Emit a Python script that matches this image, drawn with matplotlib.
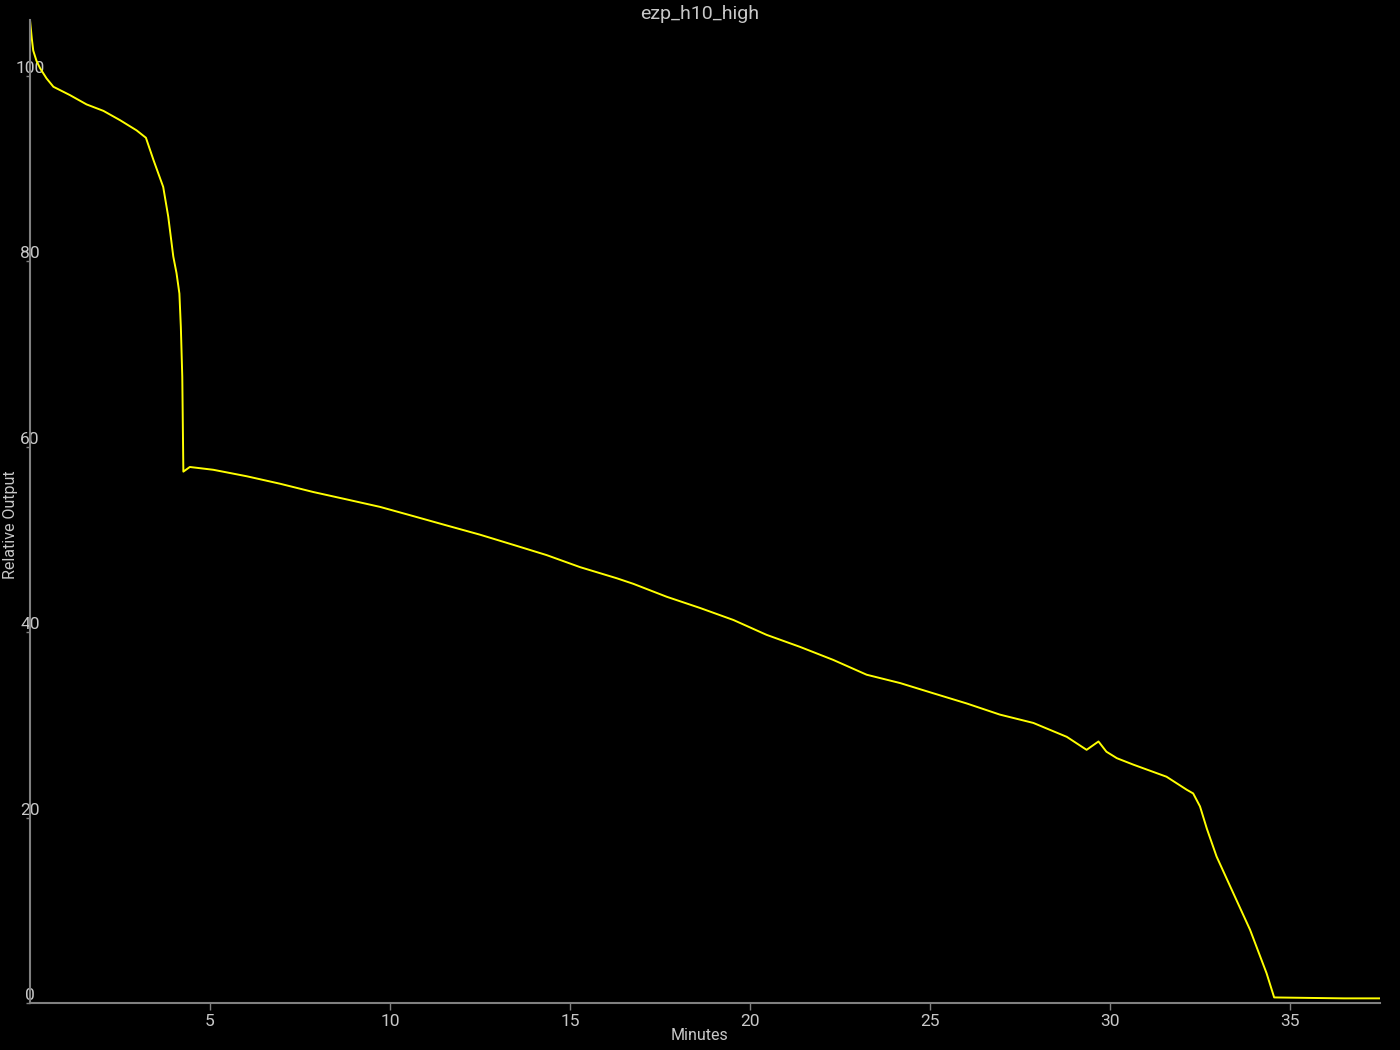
import matplotlib
matplotlib.use("Agg")
import matplotlib.pyplot as plt

# ---------------------------------------------------------------------
# DATA
# ---------------------------------------------------------------------
TITLE = "ezp_h10_high"

minutes = [
    0.00, 0.05, 0.09, 0.18, 0.28, 0.46, 0.65, 1.11, 1.57, 2.04, 2.50,
    2.96, 3.22, 3.43, 3.70, 3.84, 3.98, 4.07, 4.15, 4.19, 4.23, 4.26,
    4.44, 5.09, 6.02, 6.94, 7.87, 8.80, 9.72, 10.65, 11.57, 12.50,
    13.43, 14.35, 15.28, 16.30, 16.76, 17.69, 18.61, 19.54, 20.46,
    21.39, 22.31, 23.24, 24.17, 25.09, 26.02, 26.94, 27.87, 28.80,
    29.35, 29.68, 29.90, 30.19, 30.65, 31.57, 32.13, 32.31, 32.50,
    32.69, 32.96, 33.43, 33.89, 34.35, 34.56, 35.50, 36.50, 37.50,
]

relative_output = [
    106.0, 104.0, 102.7, 101.6, 100.8, 99.7, 98.8, 97.9, 96.9, 96.2, 95.2,
    94.1, 93.3, 90.9, 88.0, 84.8, 80.5, 78.7, 76.5, 72.9, 67.5, 57.3,
    57.8, 57.5, 56.8, 56.0, 55.1, 54.3, 53.5, 52.5, 51.5, 50.5,
    49.4, 48.3, 47.0, 45.8, 45.2, 43.8, 42.6, 41.3, 39.7,
    38.4, 37.0, 35.4, 34.5, 33.4, 32.3, 31.1, 30.2, 28.7,
    27.3, 28.2, 27.1, 26.4, 25.7, 24.4, 23.0, 22.6, 21.2,
    18.8, 15.8, 11.8, 7.9, 3.2, 0.6, 0.55, 0.5, 0.5,
]

x_ticks = [5, 10, 15, 20, 25, 30, 35]
y_ticks = [0, 20, 40, 60, 80, 100]

# ---------------------------------------------------------------------
# STYLE
# ---------------------------------------------------------------------
BG = "black"
TEXT = "#c8c8c8"
SPINE = "#808080"
LINE = "#ffff00"

plt.rcParams["font.family"] = ["Roboto", "DejaVu Sans"]

fig = plt.figure(figsize=(14, 10.5), dpi=100, facecolor=BG)
ax = fig.add_axes([30 / 1400, 47 / 1050, 1350 / 1400, 983 / 1050])
ax.set_facecolor(BG)

ax.plot(minutes, relative_output, color=LINE, lw=1.4)

ax.set_xlim(0, 37.5)
ax.set_ylim(0, 106)
ax.set_xticks(x_ticks)
ax.set_yticks(y_ticks)

for side in ("top", "right"):
    ax.spines[side].set_visible(False)
for side in ("left", "bottom"):
    ax.spines[side].set_color(SPINE)
    ax.spines[side].set_linewidth(1.5)

ax.tick_params(axis="x", colors=SPINE, labelcolor=TEXT, labelsize=12.5,
               length=5, width=1, pad=3)
ax.tick_params(axis="y", colors=SPINE, labelcolor=TEXT, labelsize=12.5,
               length=3, width=1, pad=-3)
for lbl in ax.get_yticklabels():
    lbl.set_horizontalalignment("center")
    lbl.set_verticalalignment("bottom")

fig.suptitle(TITLE, color=TEXT, fontsize=14, y=1 - 14 / 1050, va="center")
fig.supxlabel("Minutes", color=TEXT, fontsize=11.5, y=1 - 1035 / 1050,
              va="center")
fig.supylabel("Relative Output", color=TEXT, fontsize=11.5, x=11 / 1400,
              ha="center")

fig.savefig("out.png", dpi=100, facecolor=BG)
